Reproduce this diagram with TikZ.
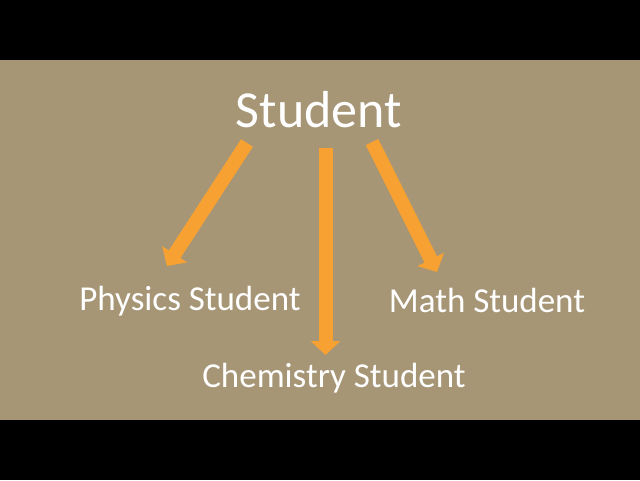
\documentclass[tikz,border=0pt]{standalone}
\usepackage{fontspec}
\setmainfont{Carlito}
\usetikzlibrary{arrows.meta}
\definecolor{tan}{HTML}{A69676}
\definecolor{arrorange}{HTML}{F7A133}
\begin{document}
\begin{tikzpicture}[x=1pt,y=1pt,
  lbl/.style={text=white,anchor=base,inner sep=0pt,font=\fontsize{35}{40}\selectfont},
  bigarrow/.style={draw=arrorange,fill=arrorange,line width=14pt,-{Triangle[width=29pt,length=14pt]}}]
\useasboundingbox (0,0) rectangle (640,480);
\fill[black] (0,0) rectangle (640,480);
\fill[tan] (0,60) rectangle (640,420);
\node[lbl,font=\fontsize{52}{60}\selectfont] (student) at (319,352) {Student};
\node[lbl] (phys) at (190,170) {Physics Student};
\node[lbl] (math) at (487,168) {Math Student};
\node[lbl] (chem) at (334,93) {Chemistry Student};
\coordinate (ls) at (247,337);
\coordinate (le) at (167,214);
\coordinate (ms) at (325.5,332);
\coordinate (me) at (325.5,125);
\coordinate (rs) at (372,338);
\coordinate (re) at (437,208);
\draw[bigarrow] (ls) -- (le);
\draw[bigarrow] (ms) -- (me);
\draw[bigarrow] (rs) -- (re);
\end{tikzpicture}
\end{document}
